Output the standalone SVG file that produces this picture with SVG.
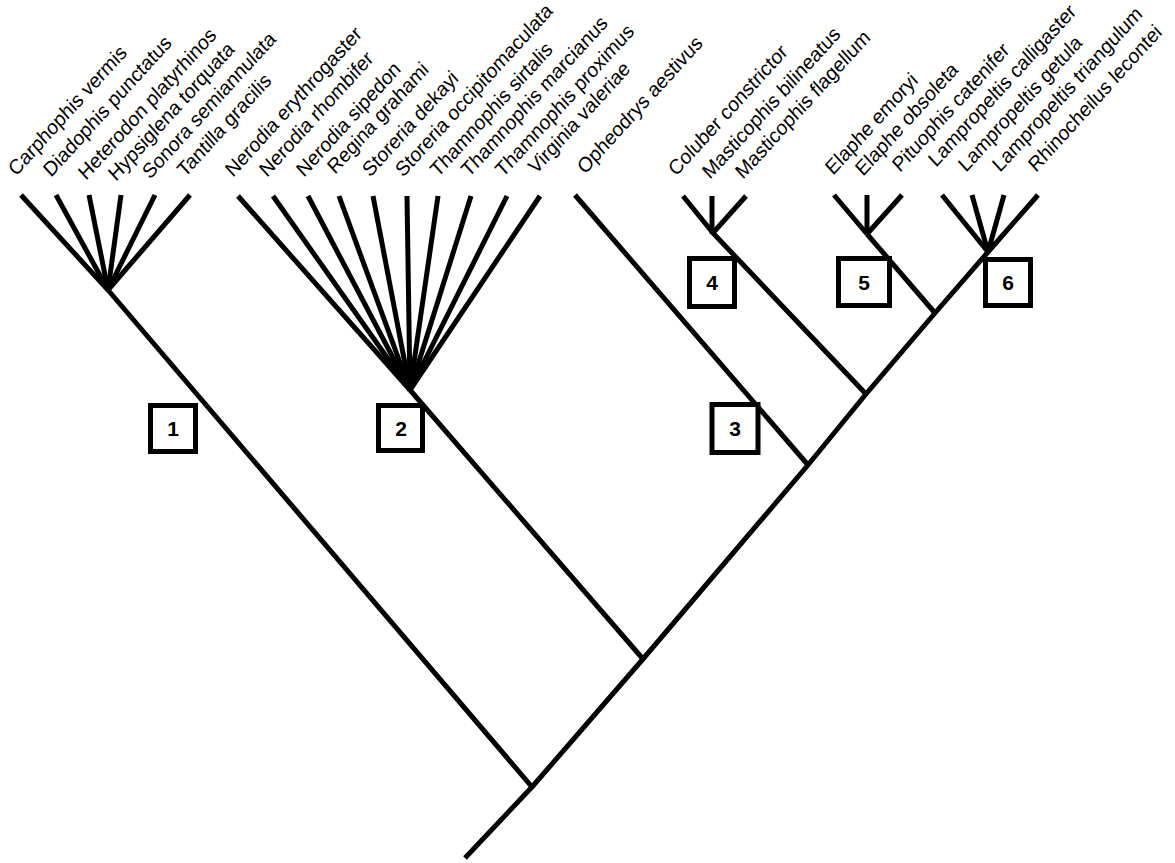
<svg xmlns="http://www.w3.org/2000/svg" width="1175" height="863" viewBox="0 0 1175 863">
<style>
.br{fill:none;stroke:#000;stroke-width:5;stroke-linejoin:round;stroke-linecap:butt}
.lf{fill:none;stroke:#000;stroke-width:5;stroke-linecap:butt}
.box{fill:#fff;stroke:#000;stroke-width:5}
.num{font-family:"Liberation Sans",Arial,sans-serif;font-weight:bold;font-size:21px;text-anchor:middle;fill:#000}
.lab{font-family:"Liberation Sans",Arial,sans-serif;font-size:19px;fill:#000}
</style>
<rect width="1175" height="863" fill="#fff"/>
<g id="connectors">
<polyline class="br" points="465,858 532,787 643,659 808,465 866,394 935,313 988,252 1038,195"/>
<line class="br" x1="532" y1="787" x2="108" y2="290"/>
<line class="br" x1="643" y1="659" x2="410" y2="390"/>
<line class="br" x1="808" y1="465" x2="575" y2="195"/>
<polyline class="br" points="866,394 713,233 683,196"/>
<line class="br" x1="935" y1="313" x2="867" y2="234"/>
<g id="clade1-leaves">
<line class="lf" x1="108" y1="290" x2="21" y2="195"/>
<line class="lf" x1="108" y1="290" x2="56" y2="195"/>
<line class="lf" x1="108" y1="290" x2="89" y2="195"/>
<line class="lf" x1="108" y1="290" x2="121" y2="195"/>
<line class="lf" x1="108" y1="290" x2="155" y2="195"/>
<line class="lf" x1="108" y1="290" x2="190" y2="195"/>
</g>
<g id="clade2-leaves">
<line class="lf" x1="410" y1="390" x2="238" y2="196"/>
<line class="lf" x1="410" y1="390" x2="273" y2="196"/>
<line class="lf" x1="410" y1="390" x2="308" y2="196"/>
<line class="lf" x1="410" y1="390" x2="339" y2="196"/>
<line class="lf" x1="410" y1="390" x2="373" y2="196"/>
<line class="lf" x1="410" y1="390" x2="407" y2="196"/>
<line class="lf" x1="410" y1="390" x2="438" y2="196"/>
<line class="lf" x1="410" y1="390" x2="471" y2="196"/>
<line class="lf" x1="410" y1="390" x2="507" y2="196"/>
<line class="lf" x1="410" y1="390" x2="540" y2="196"/>
</g>
<g id="clade4-leaves">
<line class="lf" x1="712" y1="234" x2="712" y2="196"/>
<line class="lf" x1="712" y1="234" x2="746" y2="196"/>
</g>
<g id="clade5-leaves">
<line class="lf" x1="867" y1="234" x2="834" y2="195"/>
<line class="lf" x1="867" y1="234" x2="867" y2="195"/>
<line class="lf" x1="867" y1="234" x2="902" y2="195"/>
</g>
<g id="clade6-leaves">
<line class="lf" x1="988" y1="252" x2="942" y2="195"/>
<line class="lf" x1="988" y1="252" x2="972" y2="195"/>
<line class="lf" x1="988" y1="252" x2="1004" y2="195"/>
</g>
</g>
<g id="box1"><rect class="box" x="150.5" y="405.5" width="45" height="46"/><text class="num" x="173" y="436">1</text></g>
<g id="box2"><rect class="box" x="378.5" y="405.5" width="44" height="45"/><text class="num" x="401" y="436">2</text></g>
<g id="box3"><rect class="box" x="712" y="404.5" width="46" height="48"/><text class="num" x="735" y="436">3</text></g>
<g id="box4"><rect class="box" x="689.5" y="258.5" width="45" height="48"/><text class="num" x="712" y="290">4</text></g>
<g id="box5"><rect class="box" x="838.5" y="258.5" width="51" height="47"/><text class="num" x="864" y="290">5</text></g>
<g id="box6"><rect class="box" x="985.5" y="259.5" width="45" height="46"/><text class="num" x="1008" y="290">6</text></g>
<g id="labels">
<text class="lab" transform="translate(16,177) scale(1,1.1) rotate(-45)">Carphophis vermis</text>
<text class="lab" transform="translate(51,178) scale(1,1.1) rotate(-45)">Diadophis punctatus</text>
<text class="lab" transform="translate(86,181) scale(1,1.1) rotate(-45)">Heterodon platyrhinos</text>
<text class="lab" transform="translate(116,182) scale(1,1.1) rotate(-45)">Hypsiglena torquata</text>
<text class="lab" transform="translate(150,180) scale(1,1.1) rotate(-45)">Sonora semiannulata</text>
<text class="lab" transform="translate(185,178) scale(1,1.1) rotate(-45)">Tantilla gracilis</text>
<text class="lab" transform="translate(233,178) scale(1,1.1) rotate(-45)">Nerodia erythrogaster</text>
<text class="lab" transform="translate(267,178) scale(1,1.1) rotate(-45)">Nerodia rhombifer</text>
<text class="lab" transform="translate(304,178) scale(1,1.1) rotate(-45)">Nerodia sipedon</text>
<text class="lab" transform="translate(335,175) scale(1,1.1) rotate(-45)">Regina grahami</text>
<text class="lab" transform="translate(370,178) scale(1,1.1) rotate(-45)">Storeria dekayi</text>
<text class="lab" transform="translate(403,178) scale(1,1.1) rotate(-45)">Storeria occipitomaculata</text>
<text class="lab" transform="translate(438,178) scale(1,1.1) rotate(-45)">Thamnophis sirtalis</text>
<text class="lab" transform="translate(469,178) scale(1,1.1) rotate(-45)">Thamnophis marcianus</text>
<text class="lab" transform="translate(503,178) scale(1,1.1) rotate(-45)">Thamnophis proximus</text>
<text class="lab" transform="translate(536,175) scale(1,1.1) rotate(-45)">Virginia valeriae</text>
<text class="lab" transform="translate(585,175) scale(1,1.1) rotate(-45)">Opheodrys aestivus</text>
<text class="lab" transform="translate(676,177) scale(1,1.1) rotate(-45)">Coluber constrictor</text>
<text class="lab" transform="translate(710,180) scale(1,1.1) rotate(-45)">Masticophis bilineatus</text>
<text class="lab" transform="translate(743,180) scale(1,1.1) rotate(-45)">Masticophis flagellum</text>
<text class="lab" transform="translate(833,176) scale(1,1.1) rotate(-45)">Elaphe emoryi</text>
<text class="lab" transform="translate(863,177) scale(1,1.1) rotate(-45)">Elaphe obsoleta</text>
<text class="lab" transform="translate(900,173) scale(1,1.1) rotate(-45)">Pituophis catenifer</text>
<text class="lab" transform="translate(936,168) scale(1,1.1) rotate(-45)">Lampropeltis calligaster</text>
<text class="lab" transform="translate(966,173) scale(1,1.1) rotate(-45)">Lampropeltis getula</text>
<text class="lab" transform="translate(1000,173) scale(1,1.1) rotate(-45)">Lampropeltis triangulum</text>
<text class="lab" transform="translate(1036,173) scale(1,1.1) rotate(-45)">Rhinocheilus lecontei</text>
</g>
</svg>
